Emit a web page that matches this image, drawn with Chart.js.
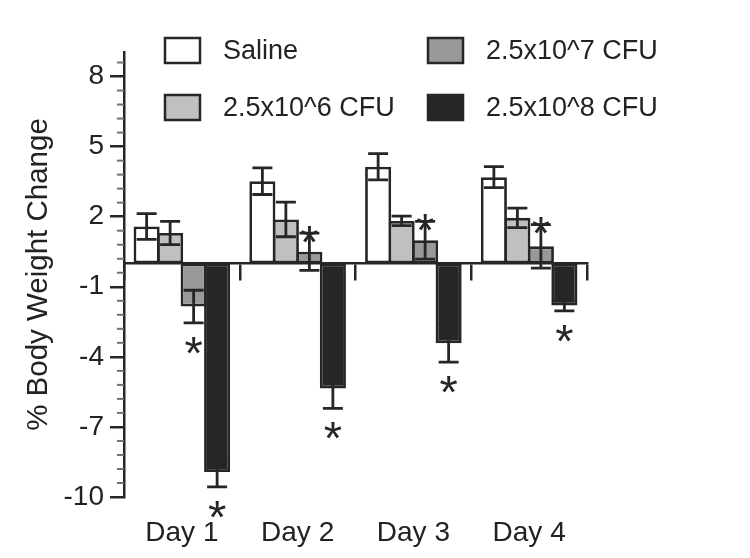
<!DOCTYPE html>
<html>
<head>
<meta charset="utf-8">
<script src="https://cdn.jsdelivr.net/npm/chart.js@4.4.0/dist/chart.umd.min.js"></script>
<style>
html, body { margin: 0; padding: 0; background: #fff; }
#wrap { width: 750px; height: 558px; position: relative; }
</style>
</head>
<body>
<div id="wrap"><canvas id="chart"></canvas></div>
<script>
const days = ['Day 1', 'Day 2', 'Day 3', 'Day 4'];
const groupNames = ['Saline', '2.5x10^6 CFU', '2.5x10^7 CFU', '2.5x10^8 CFU'];

// mean % body weight change
const saline = [1.58, 3.52, 4.14, 3.69];
const cfu6 = [1.30, 1.88, 1.82, 1.95];
const cfu7 = [-1.85, 0.50, 0.99, 0.73];
const cfu8 = [-8.93, -5.35, -3.42, -1.80];

// standard error
const salineErr = [0.55, 0.57, 0.56, 0.45];
const cfu6Err = [0.50, 0.74, 0.20, 0.42];
const cfu7Err = [0.70, 0.80, 0.81, 0.93];
const cfu8Err = [0.64, 0.86, 0.81, 0.23];

// significant vs saline
const salineSig = [false, false, false, false];
const cfu6Sig = [false, false, false, false];
const cfu7Sig = [true, true, true, true];
const cfu8Sig = [true, true, true, true];

const yTicks = [-10, -7, -4, -1, 2, 5, 8];

const INK = '#262626';
const FONT = "'Liberation Sans', Arial, sans-serif";

function makeSet(label, values, err, sig, color) {
    return {
        label: label,
        data: values,
        err: err,
        sig: sig,
        backgroundColor: color,
        borderColor: INK,
        borderWidth: 2.8,
        borderSkipped: false,
        categoryPercentage: 0.812,
        barPercentage: 1.11
    };
}

// minor ticks on the y axis (5 per major interval)
const minorTicks = {
    id: 'minorTicks',
    afterDraw(chart) {
        const y = chart.scales.y;
        const ctx = chart.ctx;
        ctx.save();
        ctx.strokeStyle = '#707070';
        ctx.lineWidth = 2;
        for (let i = 0; i < yTicks.length; i++) {
            for (let k = 1; k < 5; k++) {
                const v = yTicks[i] + k * 0.6;
                if (v > y.max) break;
                const py = y.getPixelForValue(v);
                ctx.beginPath();
                ctx.moveTo(y.right - 7, py);
                ctx.lineTo(y.right, py);
                ctx.stroke();
            }
        }
        ctx.restore();
    }
};

// error bars and asterisks
const errorBars = {
    id: 'errorBars',
    afterDatasetsDraw(chart) {
        const ctx = chart.ctx;
        const y = chart.scales.y;
        ctx.save();
        chart.data.datasets.forEach((ds, di) => {
            const meta = chart.getDatasetMeta(di);
            meta.data.forEach((bar, i) => {
                const m = ds.data[i];
                const e = ds.err[i];
                const top = y.getPixelForValue(m + e);
                const bot = y.getPixelForValue(m - e);
                ctx.strokeStyle = INK;
                ctx.lineWidth = 2.8;
                ctx.beginPath();
                ctx.moveTo(bar.x, top);
                ctx.lineTo(bar.x, bot);
                ctx.moveTo(bar.x - 10, top);
                ctx.lineTo(bar.x + 10, top);
                ctx.moveTo(bar.x - 10, bot);
                ctx.lineTo(bar.x + 10, bot);
                ctx.stroke();
                if (ds.sig[i]) {
                    const size = 47;
                    const cy = m < 0 ? bot + 19 : top - 2;
                    ctx.fillStyle = INK;
                    ctx.font = size + 'px ' + FONT;
                    ctx.textAlign = 'center';
                    ctx.textBaseline = 'alphabetic';
                    ctx.fillText('*', bar.x, cy + size * 0.57);
                }
            });
        });
        ctx.restore();
    }
};

// two-column legend inside the plot
const gridLegend = {
    id: 'gridLegend',
    afterDraw(chart) {
        const ctx = chart.ctx;
        const colX = [165, 428];
        const rowY = [50.5, 107.5];
        ctx.save();
        chart.data.datasets.forEach((ds, i) => {
            const bx = colX[Math.floor(i / 2)];
            const cy = rowY[i % 2];
            ctx.fillStyle = ds.backgroundColor;
            ctx.fillRect(bx, cy - 12.5, 35, 25);
            ctx.strokeStyle = INK;
            ctx.lineWidth = 2.5;
            ctx.strokeRect(bx, cy - 12.5, 35, 25);
            ctx.fillStyle = '#222';
            ctx.font = '27px ' + FONT;
            ctx.textAlign = 'left';
            ctx.textBaseline = 'middle';
            ctx.fillText(ds.label, bx + 58, cy + 1);
        });
        ctx.restore();
    }
};

new Chart(document.getElementById('chart'), {
    type: 'bar',
    data: {
        labels: days,
        datasets: [
            makeSet(groupNames[0], saline, salineErr, salineSig, '#ffffff'),
            makeSet(groupNames[1], cfu6, cfu6Err, cfu6Sig, '#c0c0c0'),
            makeSet(groupNames[2], cfu7, cfu7Err, cfu7Sig, '#999999'),
            makeSet(groupNames[3], cfu8, cfu8Err, cfu8Sig, '#262626')
        ]
    },
    options: {
        responsive: true,
        maintainAspectRatio: false,
        animation: false,
        layout: { padding: { left: 0, right: 163, top: 52, bottom: 0 } },
        plugins: {
            legend: { display: false },
            tooltip: { enabled: false }
        },
        scales: {
            x: {
                position: 'bottom',
                grid: { display: false, drawTicks: false },
                border: { display: false },
                ticks: { color: '#222', font: { family: FONT, size: 28 }, padding: 19 },
                afterFit(scale) { scale.height = 61; }
            },
            x0: {
                type: 'category',
                position: { y: 0 },
                z: 1,
                grid: { drawOnChartArea: false, drawTicks: true, tickLength: 16, color: INK, lineWidth: 2.5, offset: true },
                border: { display: true, color: INK, width: 2.5 },
                ticks: { display: false },
                afterFit(scale) { scale.height = 0; }
            },
            y: {
                min: -10,
                max: 9.05,
                afterBuildTicks(scale) { scale.ticks = yTicks.map(v => ({ value: v })); },
                grid: { drawOnChartArea: false, drawTicks: true, tickLength: 14, color: INK, lineWidth: 2.5 },
                border: { display: true, color: INK, width: 2.5 },
                ticks: { color: '#222', font: { family: FONT, size: 28 }, padding: 6 },
                title: { display: true, text: '% Body Weight Change', color: '#222', font: { family: FONT, size: 29.5 }, padding: { top: 21, bottom: 0 } },
                afterFit(scale) { scale.width = 124; }
            }
        }
    },
    plugins: [minorTicks, errorBars, gridLegend]
});
</script>
</body>
</html>
